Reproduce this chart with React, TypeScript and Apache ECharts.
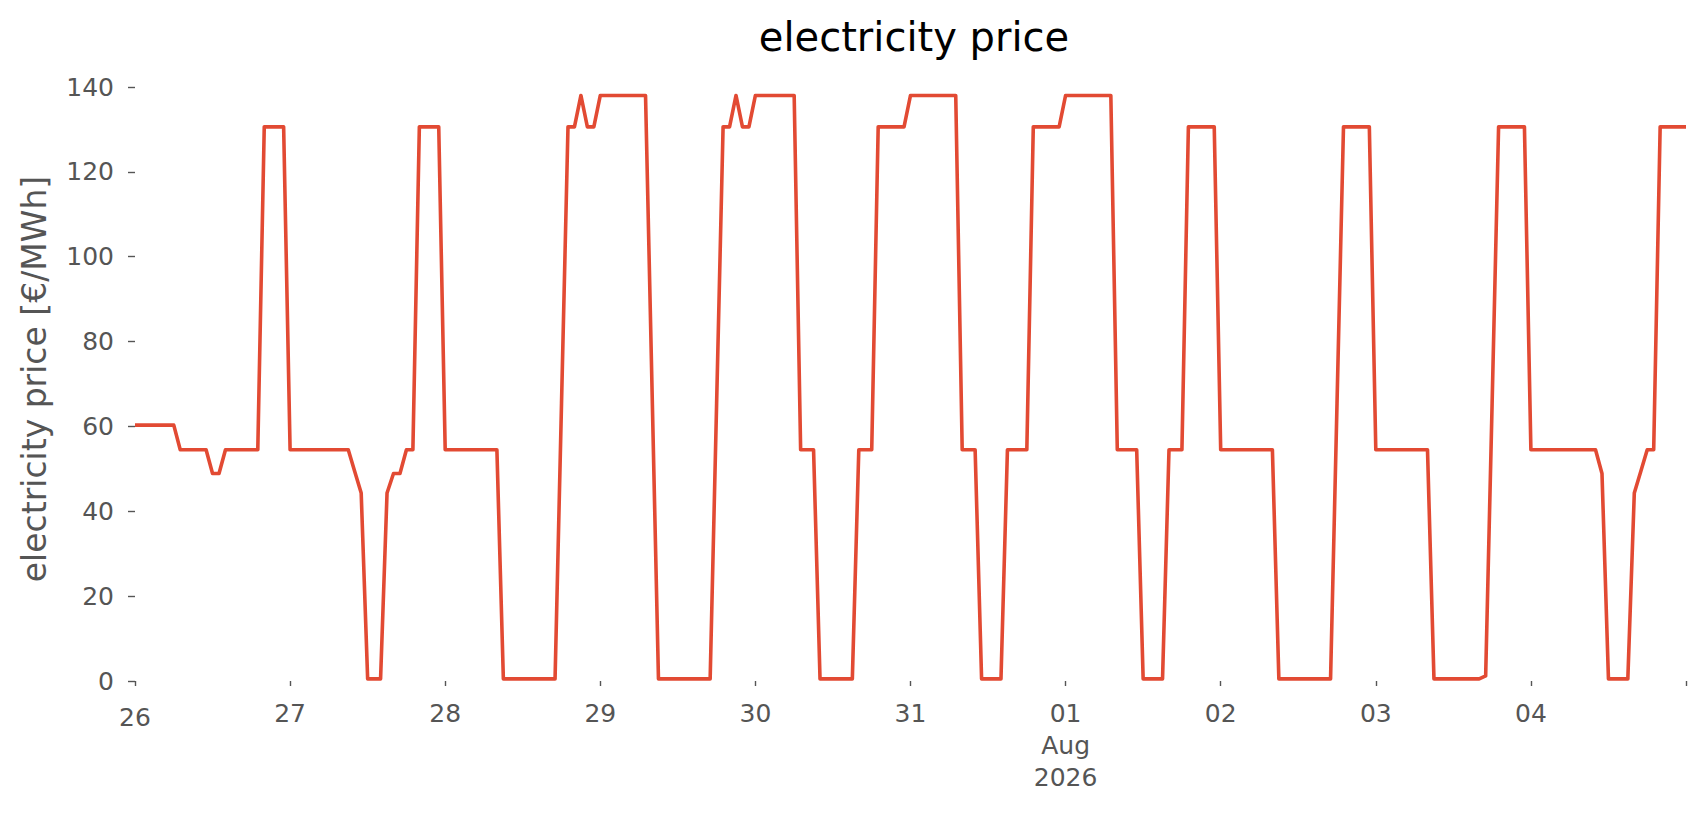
import React, { useEffect, useRef } from "react";
import * as echarts from "echarts";

// x-axis tick labels, one per day starting 2026-07-26
const dayTickLabels = ["26", "27", "28", "29", "30", "31", "01\nAug\n2026", "02", "03", "04", ""];

// hourly electricity price [€/MWh], one array per day (hours 00..23)
const jul26 = [60.3, 60.3, 60.3, 60.3, 60.3, 60.3, 60.3, 54.5, 54.5, 54.5, 54.5, 54.5, 48.9, 48.9, 54.5, 54.5, 54.5, 54.5, 54.5, 54.5, 130.6, 130.6, 130.6, 130.6];
const jul27 = [54.5, 54.5, 54.5, 54.5, 54.5, 54.5, 54.5, 54.5, 54.5, 54.5, 49.4, 44.3, 0.5, 0.5, 0.5, 44.3, 48.9, 48.9, 54.5, 54.5, 130.6, 130.6, 130.6, 130.6];
const jul28 = [54.5, 54.5, 54.5, 54.5, 54.5, 54.5, 54.5, 54.5, 54.5, 0.5, 0.5, 0.5, 0.5, 0.5, 0.5, 0.5, 0.5, 0.5, 65.5, 130.6, 130.6, 138.0, 130.6, 130.6];
const jul29 = [138.0, 138.0, 138.0, 138.0, 138.0, 138.0, 138.0, 138.0, 69.2, 0.5, 0.5, 0.5, 0.5, 0.5, 0.5, 0.5, 0.5, 0.5, 65.5, 130.6, 130.6, 138.0, 130.6, 130.6];
const jul30 = [138.0, 138.0, 138.0, 138.0, 138.0, 138.0, 138.0, 54.5, 54.5, 54.5, 0.5, 0.5, 0.5, 0.5, 0.5, 0.5, 54.5, 54.5, 54.5, 130.6, 130.6, 130.6, 130.6, 130.6];
const jul31 = [138.0, 138.0, 138.0, 138.0, 138.0, 138.0, 138.0, 138.0, 54.5, 54.5, 54.5, 0.5, 0.5, 0.5, 0.5, 54.5, 54.5, 54.5, 54.5, 130.6, 130.6, 130.6, 130.6, 130.6];
const aug01 = [138.0, 138.0, 138.0, 138.0, 138.0, 138.0, 138.0, 138.0, 54.5, 54.5, 54.5, 54.5, 0.5, 0.5, 0.5, 0.5, 54.5, 54.5, 54.5, 130.6, 130.6, 130.6, 130.6, 130.6];
const aug02 = [54.5, 54.5, 54.5, 54.5, 54.5, 54.5, 54.5, 54.5, 54.5, 0.5, 0.5, 0.5, 0.5, 0.5, 0.5, 0.5, 0.5, 0.5, 65.5, 130.6, 130.6, 130.6, 130.6, 130.6];
const aug03 = [54.5, 54.5, 54.5, 54.5, 54.5, 54.5, 54.5, 54.5, 54.5, 0.5, 0.5, 0.5, 0.5, 0.5, 0.5, 0.5, 0.5, 1.2, 65.5, 130.6, 130.6, 130.6, 130.6, 130.6];
const aug04 = [54.5, 54.5, 54.5, 54.5, 54.5, 54.5, 54.5, 54.5, 54.5, 54.5, 54.5, 48.9, 0.5, 0.5, 0.5, 0.5, 44.3, 49.4, 54.5, 54.5, 130.6, 130.6, 130.6, 130.6];
const aug05 = [130.6];

const days = [jul26, jul27, jul28, jul29, jul30, jul31, aug01, aug02, aug03, aug04, aug05];

const FONT = "DejaVu Sans";
const GREY = "#555555";

export default function App() {
  const ref = useRef<HTMLDivElement>(null);

  useEffect(() => {
    if (!ref.current) return;
    const chart = echarts.init(ref.current, null, { renderer: "svg" });
    const t0 = Date.UTC(2026, 6, 26);
    const HOUR = 3600000;
    const DAY = 86400000;
    const data: [number, number][] = [];
    days.forEach((arr, di) => {
      arr.forEach((v, h) => data.push([t0 + (di * 24 + h) * HOUR, v]));
    });

    chart.setOption({
      animation: false,
      backgroundColor: "#ffffff",
      title: {
        text: "electricity price",
        left: 909,
        top: 12,
        textAlign: "center",
        textStyle: { fontFamily: FONT, fontSize: 40, fontWeight: "normal", color: "#000000" },
      },
      grid: { left: 135, right: 20, top: 87, bottom: 134, containLabel: false },
      xAxis: {
        type: "value",
        min: t0,
        max: t0 + 10 * DAY,
        interval: DAY,
        offset: 3,
        axisLine: { show: false },
        axisTick: { show: true, length: 5, lineStyle: { color: GREY, width: 1.4 } },
        splitLine: { show: false },
        axisLabel: {
          margin: 13,
          fontFamily: FONT,
          fontSize: 25,
          color: GREY,
          lineHeight: 32,
          showMinLabel: true,
          showMaxLabel: true,
          formatter: (v: number) => {
            const i = Math.round((v - t0) / DAY);
            const s = dayTickLabels[i] ?? "";
            return i === 0 ? "{low|" + s + "}" : s;
          },
          rich: {
            low: { fontFamily: FONT, fontSize: 25, color: GREY, padding: [8, 0, 0, 0] },
          },
        },
      },
      yAxis: {
        type: "value",
        min: 0,
        max: 140,
        interval: 20,
        axisLine: { show: false },
        axisTick: { show: true, length: 7, lineStyle: { color: GREY, width: 1.4 } },
        splitLine: { show: false },
        axisLabel: { margin: 21, fontFamily: FONT, fontSize: 25, color: GREY },
      },
      graphic: [
        {
          type: "text",
          x: 34,
          y: 379,
          rotation: Math.PI / 2,
          style: {
            text: "electricity price [€/MWh]",
            fontFamily: FONT,
            fontSize: 33,
            fill: GREY,
            align: "center",
            verticalAlign: "middle",
          },
        },
      ],
      series: [
        {
          type: "line",
          data,
          showSymbol: false,
          lineStyle: { color: "#E24A33", width: 3.6, join: "round" },
          itemStyle: { color: "#E24A33" },
        },
      ],
    });

    return () => chart.dispose();
  }, []);

  return (
    <div
      ref={ref}
      style={{ position: "fixed", left: 0, top: 0, width: 1706, height: 815, background: "#ffffff" }}
    />
  );
}
